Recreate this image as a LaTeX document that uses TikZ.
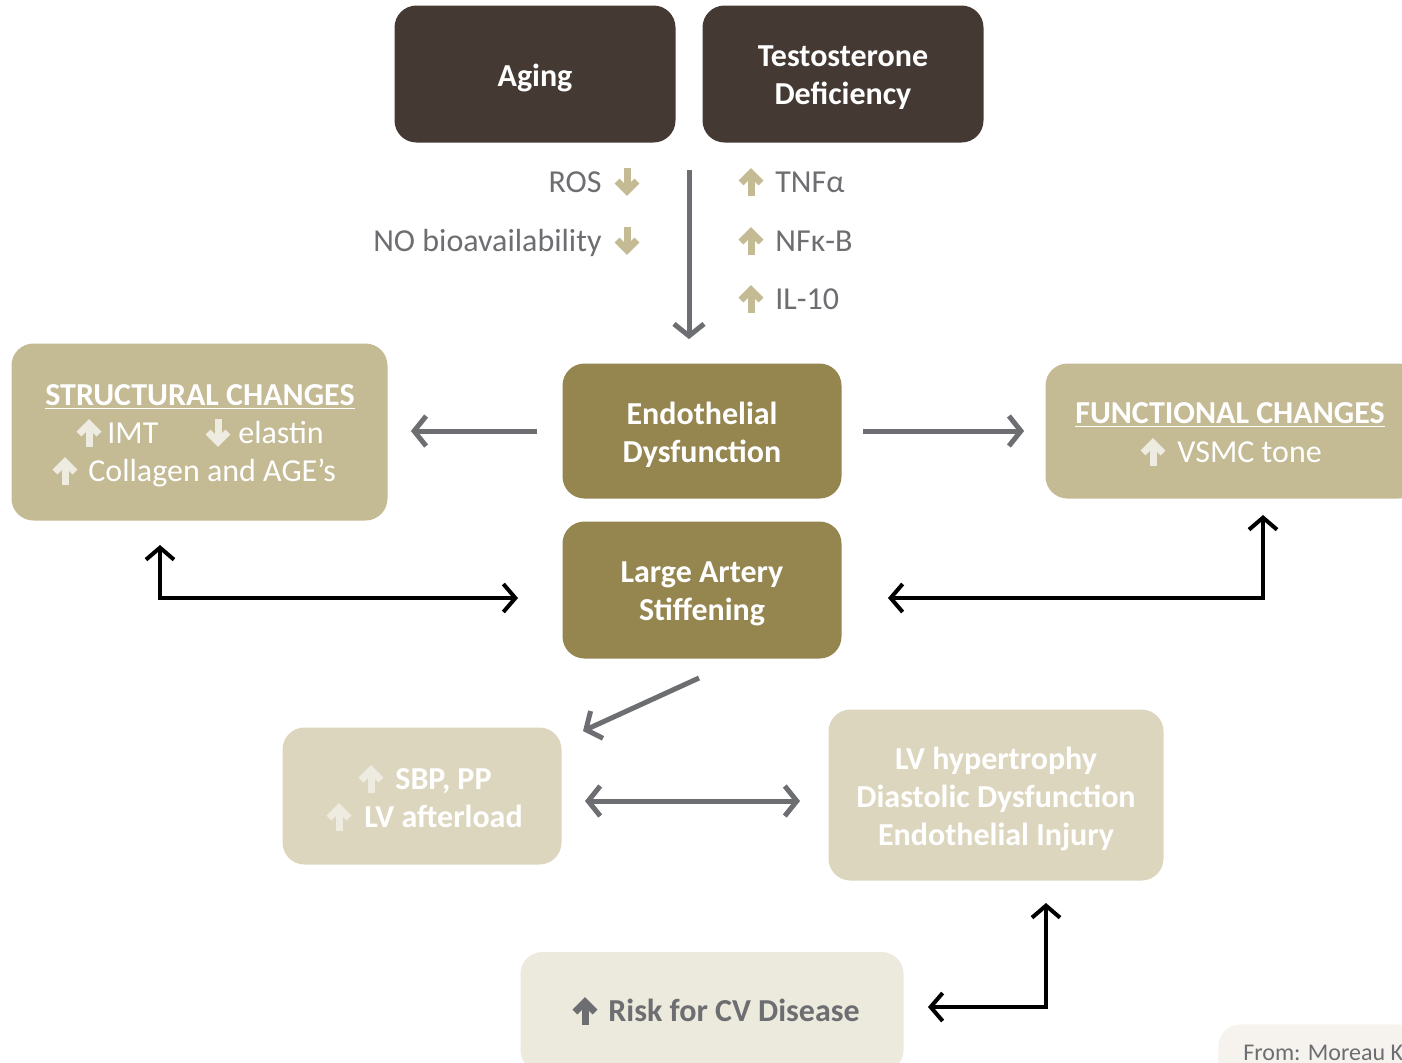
\documentclass[tikz,border=0pt]{standalone}
\usepackage{fontspec}
\setmainfont{Carlito}
\usetikzlibrary{arrows.meta,calc}

\definecolor{darkbrown}{HTML}{453A33}
\definecolor{olive}{HTML}{958650}
\definecolor{sand}{HTML}{C4BA94}
\definecolor{lightsand}{HTML}{DDD6BF}
\definecolor{cream}{HTML}{ECE9DD}
\definecolor{paper}{HTML}{F6F3EE}
\definecolor{slate}{HTML}{6D6E71}
\definecolor{pale}{HTML}{EEEBE1}

\tikzset{
  box/.style={rounded corners=11pt, inner sep=0pt},
  boxlbl/.style={inner sep=0pt, align=center, text=white, yshift=-2pt,
    font=\fontsize{16}{19}\selectfont\bfseries},
  txt/.style={inner sep=0pt, text height=10.3pt, text depth=0pt,
    font=\fontsize{16}{19}\selectfont},
  grayarr/.style={draw=slate, line width=2.5pt, -{Straight Barb[length=6pt,width=15pt]}},
  grayboth/.style={draw=slate, line width=2.5pt,
    {Straight Barb[length=6pt,width=15pt]}-{Straight Barb[length=6pt,width=15pt]}},
  blkarr/.style={draw=black, line width=2pt,
    {Straight Barb[length=6pt,width=14pt]}-{Straight Barb[length=6pt,width=14pt]}},
  pics/uparr/.style={code={
    \draw[line width=3.5pt] (0,14) -- (0,-9);
    \draw[line width=3.5pt,line join=miter] (-10,1) -- (0,-9) -- (10,1);}},
  pics/dnarr/.style={code={
    \draw[line width=3.5pt] (0,-14) -- (0,9);
    \draw[line width=3.5pt,line join=miter] (-10,-1) -- (0,9) -- (10,-1);}}
}

\begin{document}
\begin{tikzpicture}[x=0.5pt,y=-0.5pt]
\clip (0,0) rectangle (1402,1062);
\fill[white] (0,0) rectangle (1402,1062);

% boxes
\node[box, fill=darkbrown, minimum width=140.5pt, minimum height=68.5pt,
  label={[boxlbl]center:Aging}] (aging) at (535,74) {};
\node[box, fill=darkbrown, minimum width=140.5pt, minimum height=68.5pt,
  label={[boxlbl]center:Testosterone\\Deficiency}] (testo) at (843,74) {};
\node[box, fill=olive, minimum width=139.5pt, minimum height=67.5pt,
  label={[boxlbl]center:Endothelial\\Dysfunction}] (endo) at (702,431) {};
\node[box, fill=olive, minimum width=139.5pt, minimum height=68.5pt,
  label={[boxlbl]center:Large Artery\\Stiffening}] (stiff) at (702,590) {};
\node[box, fill=sand, minimum width=188pt, minimum height=88.5pt] (struct) at (199.5,432) {};
\node[box, fill=sand, minimum width=187.5pt, minimum height=67.5pt] (func) at (1233,431) {};
\node[box, fill=lightsand, minimum width=139.5pt, minimum height=68.5pt] (sbp) at (422,796) {};
\node[box, fill=lightsand, minimum width=167.5pt, minimum height=85.5pt,
  label={[boxlbl]center:LV hypertrophy\\Diastolic Dysfunction\\Endothelial Injury}] (lvh) at (996,795) {};
\node[box, fill=cream, minimum width=191.5pt, minimum height=60pt] (risk) at (712,1012) {};
\node[box, fill=paper, anchor=north west, minimum width=100pt, minimum height=30pt] (src) at (1218,1024) {};

% texts in boxes
\node[txt, text=white, font=\fontsize{16}{19}\selectfont\bfseries] (sttl) at (200,395) {\underline{STRUCTURAL CHANGES}};
\node[txt, text=white, anchor=west] (imt) at (107,433) {IMT};
\node[txt, text=white, anchor=west] (ela) at (238,433) {elastin};
\node[txt, text=white, anchor=west] (col) at (88,471) {Collagen and AGE’s};
\node[txt, text=white, font=\fontsize{16}{19}\selectfont\bfseries] (fttl) at (1230,413) {\underline{FUNCTIONAL CHANGES}};
\node[txt, text=white, anchor=west] (vsmc) at (1177,452) {VSMC tone};
\node[txt, text=white, anchor=west, font=\fontsize{16}{19}\selectfont\bfseries] (sbpt) at (395,779) {SBP, PP};
\node[txt, text=white, anchor=west, font=\fontsize{16}{19}\selectfont\bfseries] (lva) at (364,817) {LV afterload};
\node[txt, text=slate, anchor=west, font=\fontsize{16}{19}\selectfont\bfseries] (riskt) at (608,1011) {Risk for CV Disease};
\node[inner sep=0pt, text height=7.7pt, text depth=0pt, text=slate, anchor=west,
  font=\fontsize{12}{14}\selectfont] (srct) at (1243,1053) {From: Moreau K};

% labels at the top
\node[txt, text=slate, anchor=east] (ros) at (602,182) {ROS};
\node[txt, text=slate, anchor=east] (no) at (602,241) {NO bioavailability};
\node[txt, text=slate, anchor=west] (tnf) at (775,182) {TNFα};
\node[txt, text=slate, anchor=west] (nfk) at (775,241) {NFκ-B};
\node[txt, text=slate, anchor=west] (il) at (775,299) {IL-10};

% small arrows
\foreach \y in {182,241}
  \pic[color=sand] at (627,\y) {dnarr};
\foreach \y in {182,241,299}
  \pic[color=sand] at (751,\y) {uparr};
\pic[color=pale] at (89,433) {uparr};
\pic[color=pale] at (218,433) {dnarr};
\pic[color=pale] at (65,471) {uparr};
\pic[color=pale] at (1153,452) {uparr};
\pic[color=pale] at (371,779) {uparr};
\pic[color=pale] at (339,817) {uparr};
\pic[color=slate] at (585,1011) {uparr};

% connectors
\coordinate (top) at (689,170);
\draw[grayarr, shorten >=12pt] (top) -- (top |- endo.north);
\draw[grayarr, shorten <=12.5pt, shorten >=11.5pt] (endo.west) -- (struct.east |- endo.west);
\draw[grayarr, shorten <=10.5pt, shorten >=10.5pt] (endo.east) -- (func.west |- endo.east);

\coordinate (s1) at (160,545);
\coordinate (s2) at (518,598);
\draw[blkarr] (s1) |- (s2);
\coordinate (f1) at (1263,515);
\coordinate (f2) at (888,598);
\draw[blkarr] (f1) |- (f2);

\coordinate (d1) at (699,678);
\coordinate (d2) at (583,731);
\draw[grayarr] (d1) -- (d2);
\coordinate (h1) at (585,801);
\coordinate (h2) at (800,801);
\draw[grayboth] (h1) -- (h2);

\coordinate (r1) at (1046,903);
\coordinate (r2) at (928,1007);
\draw[blkarr] (r1) |- (r2);
\end{tikzpicture}
\end{document}
